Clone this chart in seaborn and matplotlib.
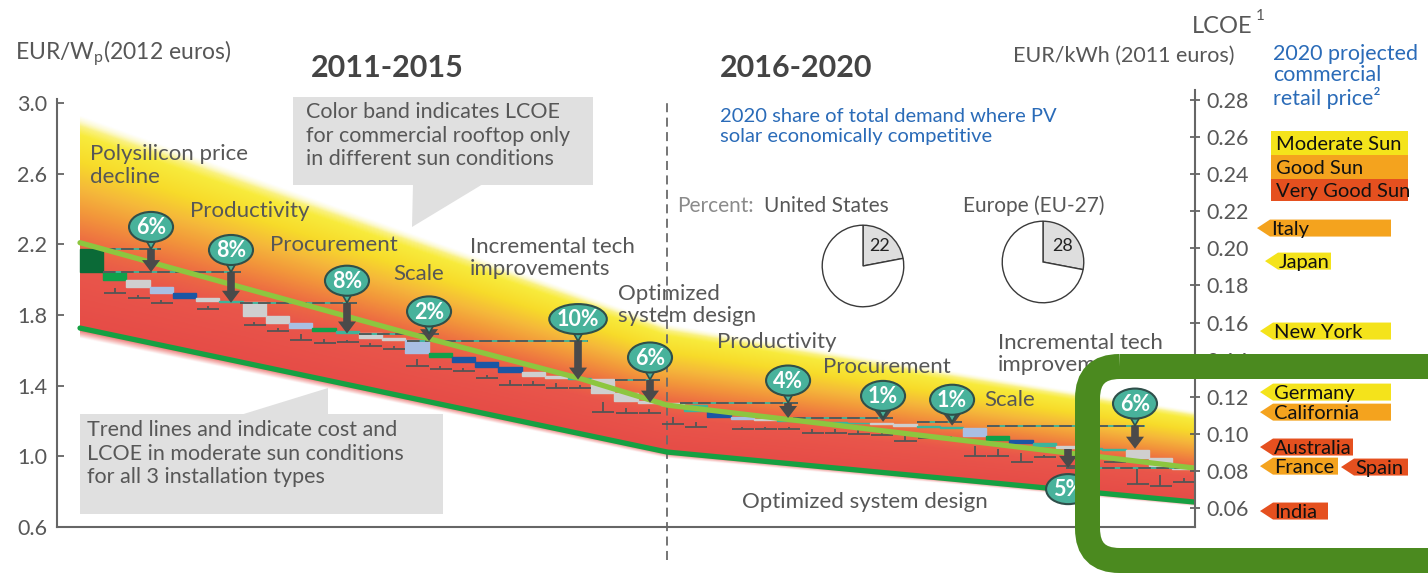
import numpy as np
import matplotlib
matplotlib.use("Agg")
import matplotlib.pyplot as plt
import matplotlib.transforms as mtransforms
from matplotlib.colors import LinearSegmentedColormap
from matplotlib.patches import Polygon, Ellipse, FancyBboxPatch, Rectangle
import seaborn as sns

sns.set_theme(style="white")
plt.rcParams["font.family"] = ["Lato", "DejaVu Sans"]
plt.rcParams["mathtext.fontset"] = "custom"
plt.rcParams["mathtext.rm"] = "Lato"

# ---------------------------------------------------------------- data
period_bounds = [2011.0, 2016.0, 2020.5]

# LCOE colour band for commercial rooftop (EUR/kWh): moderate sun (top) .. very good sun (bottom)
lcoe_band_upper = [0.269, 0.1576, 0.1112]
lcoe_band_lower = [0.157, 0.0902, 0.0632]

# LCOE trend line, moderate sun, all installation types (EUR/kWh)
trend_years = [2011.0, 2013.75, 2015.25, 2016.0, 2017.0, 2020.5]
trend_lcoe = [0.203, 0.155, 0.130, 0.1155, 0.108, 0.0815]

# System cost waterfall, EUR/Wp (level before / after each step)
cost_levels = [2.173, 2.043, 1.998, 1.958, 1.924, 1.896, 1.879, 1.873, 1.794, 1.754,
               1.726, 1.709, 1.698, 1.670, 1.658, 1.585, 1.562, 1.534, 1.505, 1.477,
               1.455, 1.443, 1.438, 1.358, 1.313, 1.302, 1.290, 1.256, 1.222, 1.211,
               1.206, 1.200, 1.194, 1.191, 1.189, 1.183, 1.172, 1.166, 1.160, 1.115,
               1.092, 1.075, 1.058, 1.047, 1.041, 1.036, 0.990, 0.945, 0.928]
step_driver = ["start", "green", "grey", "lightblue", "blue", "grey", "teal", "grey", "grey", "lightblue",
               "green", "teal", "grey", "grey", "lightblue", "green", "blue", "blue", "blue", "grey",
               "grey", "teal", "grey", "grey", "grey", "grey", "teal", "blue", "lightblue", "grey",
               "teal", "teal", "teal", "teal", "grey", "grey", "teal", "teal", "lightblue", "green",
               "blue", "teal", "grey", "teal", "teal", "grey", "grey", "grey"]
nan = np.nan
range_low = [nan, 1.924, 1.896, 1.868, nan, 1.834, nan, 1.743, 1.709, 1.658,
             1.641, 1.647, 1.624, 1.607, 1.511, 1.494, 1.483, 1.443, 1.404, 1.404,
             1.387, 1.387, 1.251, 1.245, 1.245, 1.183, 1.166, nan, 1.155, 1.155,
             1.155, 1.132, 1.132, 1.126, 1.121, 1.087, 1.104, 1.098, 1.002, 1.002,
             0.968, 0.996, 0.945, nan, 0.968, 0.843, 0.832, 0.855]
range_high = [nan, 1.953, 1.913, 1.885, nan, 1.851, nan, 1.760, 1.726, 1.692,
              1.664, 1.658, 1.641, 1.624, 1.551, 1.511, 1.500, 1.460, 1.432, 1.426,
              1.415, 1.404, 1.307, 1.273, 1.268, 1.222, 1.194, nan, 1.166, 1.166,
              1.166, 1.155, 1.155, 1.149, 1.143, 1.115, 1.109, 1.115, 1.058, 1.041,
              1.019, 1.007, 0.962, nan, 0.990, 0.934, 0.894, 0.877]

# Cost-reduction levers, percent of 2011 system cost
driver_pct = [6, 8, 8, 2, 10, 6, 4, 1, 1, 6, 5]
driver_year = [2011.605, 2012.286, 2013.274, 2013.973, 2015.242, 2015.855,
               2017.031, 2017.840, 2018.428, 2019.986, 2019.416]
driver_dash_from = [2011.196, 2011.196, 2012.363, 2013.38, 2013.785, 2015.557,
                    2016.11, 2017.073, 2018.13, 2018.726, 2019.40]
driver_bubble_below = [False] * 10 + [True]

driver_labels = ["Polysilicon price\ndecline", "Productivity", "Procurement", "Scale",
                 "Incremental tech\nimprovements", "Optimized\nsystem design",
                 "Productivity", "Procurement", "Scale", "Incremental tech\nimprovements",
                 "Optimized system design"]
driver_label_year = [2011.085, 2011.937, 2012.618, 2013.666, 2014.322, 2015.583,
                     2016.426, 2017.329, 2018.70, 2018.82, 2016.64]
driver_label_top = [2.765, 2.445, 2.252, 2.088, 2.241, 1.975, 1.704, 1.562, 1.375, 1.698, 0.80]

# 2020 share of total demand where PV is competitive (percent)
share_regions = ["United States", "Europe (EU-27)"]
share_values = [22, 28]

# 2020 projected commercial retail price, EUR/kWh
retail_places = ["Italy", "Japan", "New York", "Germany", "California",
                 "Australia", "France", "Spain", "India"]
retail_price = [0.2109, 0.1931, 0.1554, 0.1225, 0.1117, 0.0929, 0.0826, 0.0821, 0.0584]
retail_sun = ["Good Sun", "Moderate Sun", "Moderate Sun", "Moderate Sun", "Good Sun",
              "Very Good Sun", "Good Sun", "Very Good Sun", "Very Good Sun"]
sun_levels = ["Moderate Sun", "Good Sun", "Very Good Sun"]

left_ticks = [0.6, 1.0, 1.4, 1.8, 2.2, 2.6, 3.0]
right_ticks = [0.06, 0.08, 0.10, 0.12, 0.14, 0.16, 0.18, 0.20, 0.22, 0.24, 0.26, 0.28]

# ---------------------------------------------------------------- styling
GREY_TXT = "#575757"
BLUE_TXT = "#2a6bb8"
SPINE = "#666666"
sun_colors = {"Moderate Sun": "#f4e31b", "Good Sun": "#f4a31e", "Very Good Sun": "#e5501f"}
driver_colors = {"start": "#0b6a37", "green": "#10a04a", "grey": "#cfcfcf",
                 "lightblue": "#a9bfe3", "blue": "#1b56a4", "teal": "#3db49b"}
BUBBLE = "#48b29b"
ARROW = "#4a4a4a"
band_cmap = LinearSegmentedColormap.from_list(
    "sunband",
    [(0.0, "#e64c47"), (0.28, "#e9564b"), (0.42, "#ed6d42"), (0.55, "#f2953b"),
     (0.67, "#f5b83a"), (0.80, "#f7db2a"), (0.93, "#f8eb3c"), (1.0, "#fbf6b0")])

W, H = 1428, 573
fig = plt.figure(figsize=(W / 100, H / 100), dpi=100, facecolor="white")
ax = fig.add_axes([57 / W, 1 - 527 / H, (1195 - 57) / W, (527 - 90) / H])
ax.set_facecolor("white")
ax.set_xlim(2010.804, 2020.497)
ax.set_ylim(0.6, 3.073)
ax_r = ax.twinx()
ax_r.set_ylim(0.0498, 0.2853)
lcoe_trans = mtransforms.blended_transform_factory(ax.transData, ax_r.transData)

# spines and ticks
for side in ["top", "right"]:
    ax.spines[side].set_visible(False)
for side in ["top", "left", "bottom"]:
    ax_r.spines[side].set_visible(False)
for sp in [ax.spines["left"], ax.spines["bottom"], ax_r.spines["right"]]:
    sp.set_color(SPINE)
    sp.set_linewidth(1.5)
ax.spines["left"].set_bounds(0.6, 3.02)
ax.set_xticks([])
ax.set_yticks(left_ticks)
ax.set_yticklabels([f"{t:.1f}" for t in left_ticks])
ax.tick_params(axis="y", direction="in", length=5, width=1.2, colors=GREY_TXT,
               labelsize=15.5, pad=7, left=True)
ax_r.set_yticks(right_ticks)
ax_r.set_yticklabels([f"{t:.2f}" for t in right_ticks])
ax_r.tick_params(axis="y", direction="inout", length=7, width=1.2, colors=GREY_TXT,
                 labelsize=15.5, pad=5, right=True)

# colour band (LCOE range by sun condition)
gx = np.linspace(2011.0, 2020.6, 900)
gy = np.linspace(0.045, 0.285, 700)
GX, GY = np.meshgrid(gx, gy)
lo = np.interp(GX, period_bounds, lcoe_band_lower)
hi = np.interp(GX, period_bounds, lcoe_band_upper)
F = (GY - lo) / (hi - lo)
rgba = band_cmap(np.clip(F, 0, 1))
rgba[..., 3] = np.clip((1.02 - F) / 0.05, 0, 1) * np.clip((F + 0.05) / 0.05, 0, 1)
ax.imshow(rgba, extent=(gx[0], gx[-1], gy[0], gy[-1]), origin="lower", aspect="auto",
          interpolation="bilinear", transform=lcoe_trans, zorder=1)

# period divider
ax.axvline(period_bounds[1], ymin=-0.075, ymax=0.977, clip_on=False, color="#6a6a6a",
           lw=1.3, ls=(0, (5, 3)), zorder=2.5)

# cost waterfall steps
edges = np.linspace(period_bounds[0], period_bounds[-1], len(cost_levels))
step_left = edges[:-1]
step_w = edges[1] - edges[0]
tops = np.array(cost_levels[:-1])
bots = np.array(cost_levels[1:])
cols = [driver_colors[d] for d in step_driver]
ax.bar(step_left, tops - bots, bottom=bots, width=step_w, align="edge", color=cols,
       edgecolor=cols, linewidth=1.0, zorder=3)

# range markers under the steps
rl = np.array(range_low)
rh = np.array(range_high)
ok = ~np.isnan(rl)
ax.hlines(rl[ok], step_left[ok] + 0.01, step_left[ok] + step_w, color="#555555", lw=1.3, zorder=3.2)
ax.vlines(step_left[ok] + step_w / 2, rl[ok], rh[ok], color="#555555", lw=1.3, zorder=3.2)

# trend lines
sns.lineplot(x=trend_years, y=trend_lcoe, ax=ax, color="#8dc63f", lw=3.8,
             transform=lcoe_trans, zorder=4, legend=False)
sns.lineplot(x=period_bounds, y=lcoe_band_lower, ax=ax, color="#16a042", lw=3.8,
             transform=lcoe_trans, zorder=4, legend=False)

# cost-reduction levers: dashed start level, arrow, percentage bubble
base_cost = cost_levels[0]
level = base_cost
head_len = 12 * (ax.get_ylim()[1] - ax.get_ylim()[0]) / 437
head_hw = 9 / 117.4
x_right = ax.get_xlim()[1]
for pct, yr, d0, below in zip(driver_pct, driver_year, driver_dash_from, driver_bubble_below):
    start = level
    end = level - pct / 100 * base_cost
    level = end
    dash_y = end if below else start
    dash_x1 = x_right if below else yr + 0.085
    ax.hlines(dash_y, d0, dash_x1, color="#3db49b", lw=1.3, zorder=3.5)
    ax.hlines(dash_y, d0, dash_x1, color="#555555", lw=1.3, linestyles=(0, (7, 3)), zorder=3.6)
    if start > end + head_len:
        ax.vlines(yr, end + head_len * 0.9, start, color=ARROW, lw=5.5, zorder=5)
    ax.add_patch(Polygon([(yr - head_hw, end + head_len), (yr + head_hw, end + head_len), (yr, end)],
                         closed=True, fc=ARROW, ec="none", zorder=5))
    label = f"{pct}%"
    bw = 0.375 if len(label) <= 2 else 0.49
    if below:
        yc = end - 0.12
    else:
        yc = start + 0.125
        ax.add_patch(Polygon([(yr - 0.055, yc - 0.06), (yr + 0.055, yc - 0.06), (yr, start)],
                             closed=True, fc=BUBBLE, ec="#2f4f4a", lw=1.2, zorder=5.5))
    ax.add_patch(Ellipse((yr, yc), bw, 0.17, fc=BUBBLE, ec="#2f4f4a", lw=1.5, zorder=6))
    ax.text(yr, yc - 0.005, label, ha="center", va="center", color="white",
            fontsize=15.5, fontweight="bold", zorder=7)

for txt, yr, top in zip(driver_labels, driver_label_year, driver_label_top):
    ax.text(yr, top, txt, ha="left", va="top", fontsize=16, color=GREY_TXT,
            linespacing=1.15, zorder=7)

# ---------------------------------------------------------------- overlay annotations
ov = fig.add_axes([0, 0, 1, 1], zorder=20)
ov.set_xlim(0, W)
ov.set_ylim(H, 0)
ov.axis("off")
ov.patch.set_alpha(0)

CALLOUT = "#e0e0e0"
ov.add_patch(Rectangle((293, 97), 300, 88, fc=CALLOUT, ec="none"))
ov.add_patch(Polygon([(413, 184), (483, 184), (412, 227)], closed=True, fc=CALLOUT, ec="none"))
ov.text(306, 102, "Color band indicates LCOE\nfor commercial rooftop only\nin different sun conditions",
        va="top", ha="left", fontsize=15.5, color=GREY_TXT, linespacing=1.22)
ov.add_patch(Rectangle((80, 414), 363, 100, fc=CALLOUT, ec="none"))
ov.add_patch(Polygon([(242, 414.5), (328, 388), (328, 414.5)], closed=True, fc=CALLOUT, ec="none"))
ov.text(87, 420, "Trend lines and indicate cost and\nLCOE in moderate sun conditions\nfor all 3 installation types",
        va="top", ha="left", fontsize=15.5, color=GREY_TXT, linespacing=1.22)

ov.text(15, 60, r"EUR/W$_\mathrm{p}$(2012 euros)", va="baseline", ha="left", fontsize=16.5, color=GREY_TXT)
ov.text(387, 68, "2011-2015", ha="center", va="center", fontsize=22, fontweight="bold", color="#444444")
ov.text(796, 68, "2016-2020", ha="center", va="center", fontsize=22, fontweight="bold", color="#444444")
ov.text(1192, 33, "LCOE", ha="left", va="baseline", fontsize=17, color=GREY_TXT)
ov.text(1256, 20, "1", ha="left", va="baseline", fontsize=11, color=GREY_TXT)
ov.text(1013, 62, "EUR/kWh (2011 euros)", ha="left", va="baseline", fontsize=15.5, color=GREY_TXT)
ov.text(1273, 44, "2020 projected\ncommercial\nretail price²", ha="left", va="top",
        fontsize=15.5, color=BLUE_TXT, linespacing=1.08)
ov.text(720, 108, "2020 share of total demand where PV\nsolar economically competitive",
        ha="left", va="top", fontsize=14.5, color=BLUE_TXT, linespacing=1.2)
ov.text(677, 206, "Percent:", ha="left", va="center", fontsize=15, color="#8a8a8a")
ov.text(764, 206, share_regions[0], ha="left", va="center", fontsize=15, color=GREY_TXT)
ov.text(963, 206, share_regions[1], ha="left", va="center", fontsize=15, color=GREY_TXT)

# share pies
pie_centres = [(863, 266), (1043, 262)]
for (cx, cy), val in zip(pie_centres, share_values):
    pax = fig.add_axes([(cx - 42) / W, 1 - (cy + 42) / H, 84 / W, 84 / H], zorder=15)
    pax.pie([val, 100 - val], startangle=90, counterclock=False,
            colors=["#dedede", "white"], wedgeprops=dict(edgecolor="#3a3a3a", linewidth=1.0),
            autopct=lambda p: f"{p:.0f}" if p < 50 else "", pctdistance=0.63,
            textprops=dict(fontsize=13, color="#222222"))
    pax.set_xlim(-1.03, 1.03)
    pax.set_ylim(-1.03, 1.03)
    pax.set_aspect("equal")

# sun-condition key
key_rows = [(131, 24), (155, 24), (179, 22)]
for name, (y0, hgt) in zip(sun_levels, key_rows):
    ov.add_patch(Rectangle((1271, y0), 137, hgt, fc=sun_colors[name], ec="none"))
    ov.text(1276, y0 + hgt / 2 + 1, name, ha="left", va="center", fontsize=14.5, color="#111111")

# retail price tags on the LCOE scale
tag_tip = [1257, 1265, 1260, 1260, 1260, 1260, 1260, 1341, 1260]
tag_end = [1391, 1331, 1391, 1391, 1391, 1353, 1338, 1408, 1328]
to_ov = ov.transData.inverted()
for place, price, sun, x0, x1 in zip(retail_places, retail_price, retail_sun, tag_tip, tag_end):
    yc = to_ov.transform(ax_r.transData.transform((0, price)))[1]
    hh = 8.5
    ov.add_patch(Polygon([(x0, yc), (x0 + 13, yc - hh), (x1, yc - hh), (x1, yc + hh), (x0 + 13, yc + hh)],
                         closed=True, fc=sun_colors[sun], ec="none"))
    ov.text(x0 + 14, yc + 1, place, ha="left", va="center", fontsize=14.5, color="#111111")

# highlight frame
ov.add_patch(FancyBboxPatch((1087.5, 366.5), 420, 194, boxstyle="round,pad=0,rounding_size=32",
                            fc="none", ec="#4b8a1f", lw=18, zorder=30))

fig.savefig("out.png", dpi=100, facecolor="white")
